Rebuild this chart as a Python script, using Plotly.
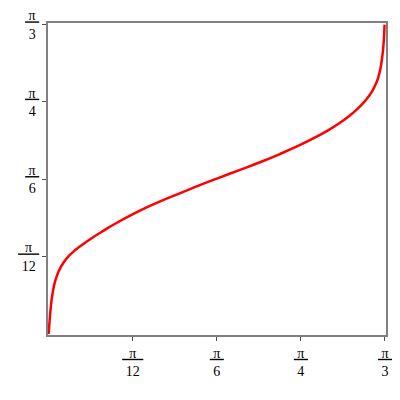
import math
import plotly.graph_objects as go

# curve points (radians)
x_vals = [0.000, 0.002, 0.004, 0.007, 0.012, 0.020, 0.032, 0.046, 0.063, 0.083,
          0.107, 0.135, 0.170, 0.207, 0.267, 0.310, 0.360, 0.410, 0.467, 0.524,
          0.600, 0.660, 0.720, 0.780, 0.830, 0.870, 0.905, 0.935, 0.960, 0.980,
          0.995, 1.008, 1.018, 1.026, 1.033, 1.039, 1.043, 1.045, 1.046]
y_vals = [0.000, 0.030, 0.058, 0.094, 0.136, 0.178, 0.214, 0.241, 0.264, 0.284,
          0.304, 0.325, 0.349, 0.373, 0.408, 0.431, 0.455, 0.477, 0.502, 0.526,
          0.557, 0.582, 0.609, 0.638, 0.665, 0.689, 0.713, 0.737, 0.760, 0.782,
          0.802, 0.823, 0.844, 0.867, 0.897, 0.939, 0.983, 1.018, 1.047]

tick_vals = [math.pi / 12, math.pi / 6, math.pi / 4, math.pi / 3]
tick_denoms = ["12", "6", "4", "3"]

NB = "\u00a0"


def frac(den):
    # pi over den, drawn as a stacked fraction with an underline as the bar
    pad = NB * 2 if len(den) > 1 else NB
    return f"<u>{pad}π{pad}</u><br>{NB}{den}{NB}"


tick_text = [frac(d) for d in tick_denoms]

fig = go.Figure()
fig.add_trace(go.Scatter(
    x=x_vals, y=y_vals, mode="lines",
    line=dict(color="#ff0000", width=2.5, shape="spline", smoothing=1.3),
    hoverinfo="skip",
))

axis_common = dict(
    showgrid=False, zeroline=False, automargin=False,
    showline=True, linecolor="#808080", linewidth=2, mirror=True,
    ticks="outside", ticklen=4, tickwidth=1, tickcolor="#505050",
    tickvals=tick_vals, ticktext=tick_text,
    tickfont=dict(family="Liberation Serif", size=14, color="#000000"),
)

fig.update_xaxes(range=[-0.002, 1.0505], **axis_common)
fig.update_yaxes(range=[-0.0034, 1.0524], **axis_common)

# page body adds an 8px margin, so the figure is sized/offset to suit
fig.update_layout(
    width=392, height=392,
    margin=dict(l=40, r=14, t=15, b=65),
    paper_bgcolor="white", plot_bgcolor="white",
    showlegend=False,
)

fig.write_html("out.html")
